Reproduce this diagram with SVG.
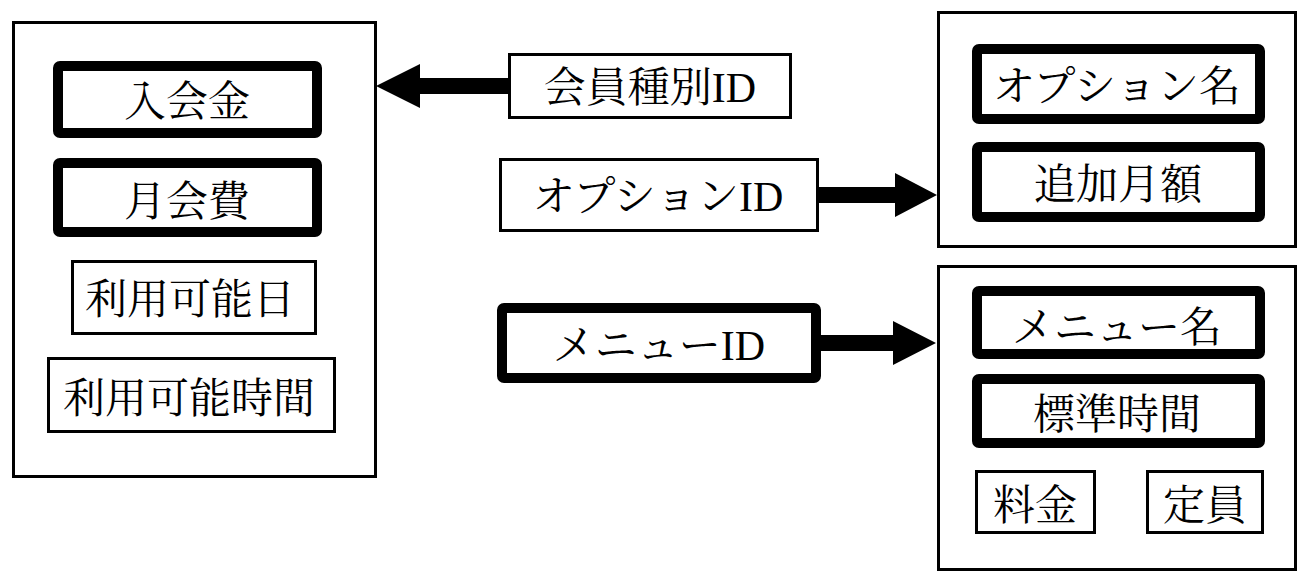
<svg xmlns="http://www.w3.org/2000/svg" width="1314" height="584" viewBox="0 0 1314 584">
<style>
rect{fill:#fff;stroke:#000}
.c{stroke-width:3}
.t{stroke-width:3}
.k{stroke-width:10;stroke-linejoin:round}
text{font-family:"Noto Serif CJK JP","Noto Sans CJK JP",sans-serif;font-size:42px;fill:#000;text-anchor:middle}
.l{font-family:"Liberation Serif",serif}
.a{fill:#000;stroke:none}
</style>
<g id="member-type">
<rect class="c" x="13.5" y="22.5" width="362" height="454"/>
<g id="entry-fee"><rect class="k" x="58" y="66" width="259" height="67" rx="2"/><text x="187" y="116">入会金</text></g>
<g id="monthly-fee"><rect class="k" x="58" y="163" width="259" height="69" rx="2"/><text x="187" y="216">月会費</text></g>
<g id="available-days"><rect class="t" x="72.5" y="261.5" width="243" height="72"/><text x="190" y="314">利用可能日</text></g>
<g id="available-hours"><rect class="t" x="48.5" y="358.5" width="286" height="73"/><text x="189" y="413">利用可能時間</text></g>
</g>
<g id="option">
<rect class="c" x="938.5" y="12.5" width="357" height="234"/>
<g id="option-name"><rect class="k" x="977" y="49" width="283" height="70" rx="2"/><text x="1117" y="101">オプション名</text></g>
<g id="extra-monthly"><rect class="k" x="977" y="147" width="283" height="70" rx="2"/><text x="1118" y="199">追加月額</text></g>
</g>
<g id="menu">
<rect class="c" x="938.5" y="266.5" width="357" height="303"/>
<g id="menu-name"><rect class="k" x="977" y="291" width="283" height="63" rx="2"/><text x="1117" y="342">メニュー名</text></g>
<g id="standard-time"><rect class="k" x="977" y="379" width="283" height="64" rx="2"/><text x="1117" y="429">標準時間</text></g>
<g id="price"><rect class="t" x="976.5" y="471.5" width="118" height="61"/><text x="1035" y="520">料金</text></g>
<g id="capacity"><rect class="t" x="1147.5" y="471.5" width="115" height="61"/><text x="1205" y="520">定員</text></g>
</g>
<g id="member-type-id"><rect class="t" x="509.5" y="54.5" width="281" height="63"/><text x="650" y="102">会員種別<tspan class="l">ID</tspan></text></g>
<g id="option-id"><rect class="t" x="500.5" y="159.5" width="317" height="71"/><text x="658" y="211">オプション<tspan class="l">ID</tspan></text></g>
<g id="menu-id"><rect class="k" x="502" y="308" width="314" height="70" rx="2"/><text x="659" y="360">メニュー<tspan class="l">ID</tspan></text></g>
<g id="connectors">
<path class="a" d="M508,78 L420,78 L420,64 L376,86 L420,108 L420,94 L508,94 Z"/>
<path class="a" d="M819,187 L895,187 L895,173 L937,195 L895,217 L895,203 L819,203 Z"/>
<path class="a" d="M821,335 L893,335 L893,321 L936,343 L893,365 L893,351 L821,351 Z"/>
</g>
</svg>
